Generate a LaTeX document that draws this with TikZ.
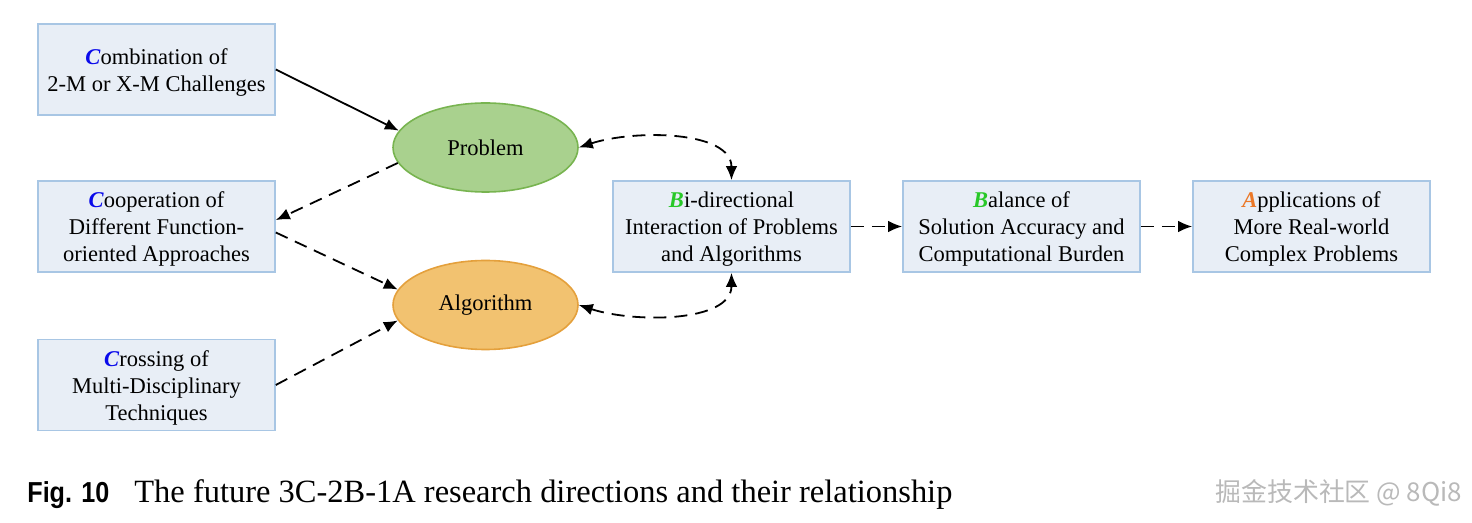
\documentclass[tikz,border=0pt]{standalone}
\usepackage{fontspec}
\setmainfont{Liberation Serif}
\newfontfamily\capsans{Liberation Sans}
\newfontfamily\cjk{Noto Sans CJK SC}
\usetikzlibrary{shapes.geometric,arrows.meta}
\definecolor{boxfill}{RGB}{232,238,246}
\definecolor{boxborder}{RGB}{168,198,228}
\definecolor{probfill}{RGB}{169,209,142}
\definecolor{probborder}{RGB}{120,180,80}
\definecolor{algfill}{RGB}{242,194,112}
\definecolor{algborder}{RGB}{228,160,60}
\definecolor{cblue}{RGB}{10,10,235}
\definecolor{bgreen}{RGB}{40,200,40}
\definecolor{aorange}{RGB}{235,120,40}
\newcommand{\fl}{\rule{0pt}{10.5bp}}
\newcommand{\CC}{\fl\textcolor{cblue}{\textbf{\textit{C}}}}
\newcommand{\BB}{\fl\textcolor{bgreen}{\textbf{\textit{B}}}}
\newcommand{\AAx}{\fl\textcolor{aorange}{\textbf{\textit{A}}}}
\tikzset{
  boxnode/.style={draw=boxborder, fill=boxfill, line width=0.8bp, minimum width=118.5bp,
    minimum height=45.5bp, align=center, inner sep=0pt,
    font=\fontsize{11.3}{13.6}\selectfont},
  ellnode/.style={ellipse, line width=0.8bp, minimum width=92.5bp, minimum height=44.5bp,
    inner sep=0pt, font=\fontsize{11.3}{13.6}\selectfont},
  conn/.style={line width=0.9bp, -{Latex[length=7bp,width=5.8bp]}},
  dconn/.style={conn, dash pattern=on 6.5bp off 4bp},
  biconn/.style={line width=0.9bp, dash pattern=on 6.5bp off 4bp,
    {Latex[length=7bp,width=5.8bp]}-{Latex[length=7bp,width=5.8bp]}},
}
\begin{document}
\begin{tikzpicture}[x=0.5bp,y=-0.5bp]
\useasboundingbox (0,0) rectangle (1472,523);
\node[boxnode] (c1) at (156.5,69.5) {\CC ombination of\\2-M or X-M Challenges};
\node[boxnode] (c2) at (156.5,226.5) {\CC ooperation of\\Different Function-\\oriented Approaches};
\node[boxnode] (c3) at (156.5,385) {\CC rossing of\\Multi-Disciplinary\\Techniques};
\node[ellnode, draw=probborder, fill=probfill] (prob) at (485.5,147.5) {Problem};
\node[ellnode, draw=algborder, fill=algfill] (alg) at (485.5,305) {Algorithm};
\node[boxnode] (b1) at (731.5,226.5) {\BB i-directional\\Interaction of Problems\\and Algorithms};
\node[boxnode] (b2) at (1021.5,226.5) {\BB alance of\\Solution Accuracy and\\Computational Burden};
\node[boxnode] (a1) at (1311.5,226.5) {\AAx pplications of\\More Real-world\\Complex Problems};

\draw[conn] (c1.east) -- (prob.169);
\draw[dconn] (prob.190) -- ([yshift=3.2bp]c2.east);
\draw[dconn] ([yshift=-3bp]c2.east) -- (alg.170);
\draw[dconn] (c3.east) -- (alg.190);
\draw[biconn] (prob.east) .. controls +(55,-18) and +(0,-50) .. (b1.north);
\draw[biconn] (alg.east) .. controls +(55,18) and +(0,50) .. (b1.south);
\draw[dconn] (b1.east) -- (b2.west);
\draw[dconn] (b2.east) -- (a1.west);

\node[anchor=base west, inner sep=0pt, font=\capsans\bfseries\fontsize{14.5}{17}\selectfont] (figlab) at (27,503) {\scalebox{0.87}[1]{Fig. 10}};
\node[anchor=base west, inner sep=0pt, font=\fontsize{16.3}{19}\selectfont] (figcap) at (134,503) {The future 3C-2B-1A research directions and their relationship};
\node[anchor=base west, inner sep=0pt, text=gray!55, font=\cjk\fontsize{13}{15}\selectfont] (wm) at (1215,502) {掘金技术社区 @ 8Qi8};
\end{tikzpicture}
\end{document}
